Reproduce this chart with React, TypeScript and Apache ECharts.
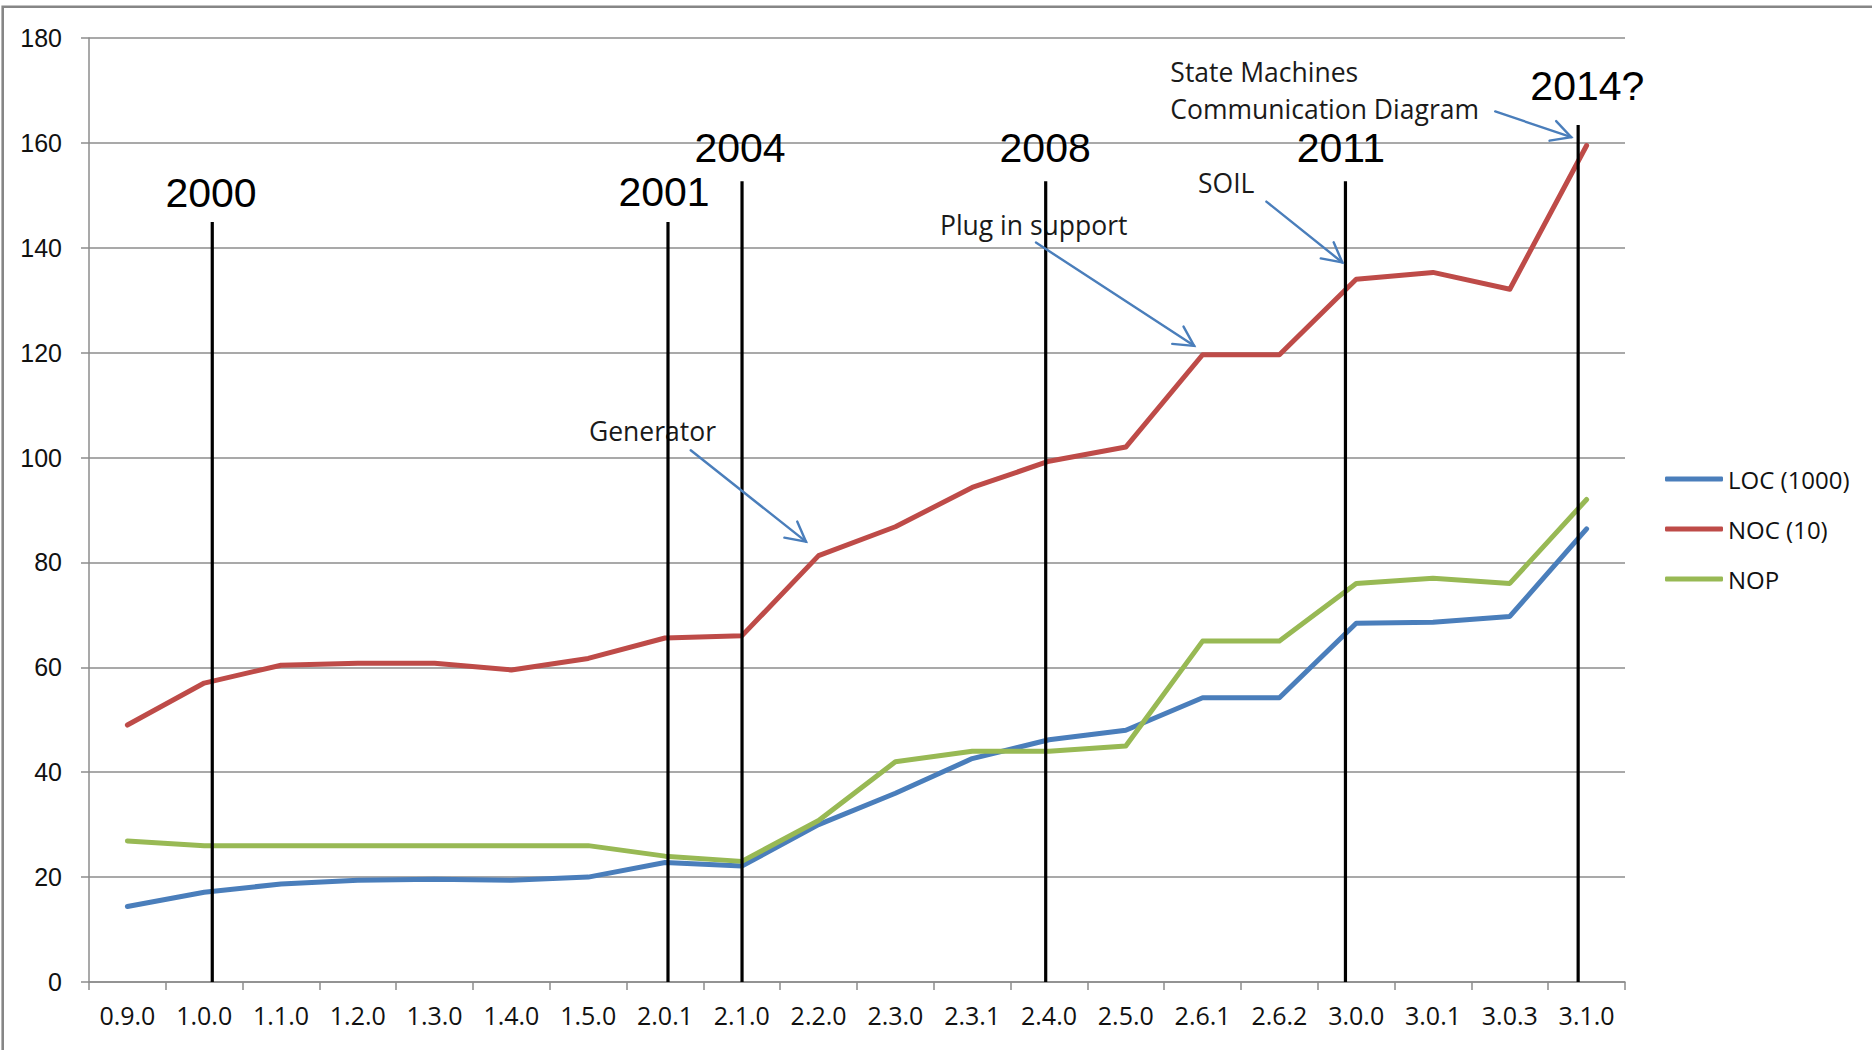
import React, { useEffect, useRef } from "react";
import * as echarts from "echarts";

// Release versions along the category axis
const versions = [
  "0.9.0", "1.0.0", "1.1.0", "1.2.0", "1.3.0", "1.4.0", "1.5.0", "2.0.1", "2.1.0", "2.2.0",
  "2.3.0", "2.3.1", "2.4.0", "2.5.0", "2.6.1", "2.6.2", "3.0.0", "3.0.1", "3.0.3", "3.1.0",
];

// Lines of code (thousands)
const locThousands = [
  14.4, 17.1, 18.7, 19.4, 19.6, 19.4, 20.0, 22.8, 22.1, 30.0,
  36.0, 42.6, 46.2, 48.0, 54.2, 54.2, 68.4, 68.6, 69.7, 86.4,
];
// Number of classes (tens)
const nocTens = [
  49.0, 57.0, 60.4, 60.8, 60.8, 59.5, 61.7, 65.6, 66.0, 81.3,
  86.8, 94.3, 99.3, 102.0, 119.6, 119.6, 134.0, 135.3, 132.1, 159.5,
];
// Number of packages
const nop = [
  26.9, 26.0, 26.0, 26.0, 26.0, 26.0, 26.0, 24.0, 23.0, 30.8,
  42.0, 44.0, 44.0, 45.0, 65.0, 65.0, 76.0, 77.0, 76.0, 92.0,
];

const seriesNames = ["LOC (1000)", "NOC (10)", "NOP"];
const seriesColors = ["#4a7ebb", "#be4b48", "#98b954"];

const yTicks = { min: 0, max: 180, interval: 20 };

// Year markers, placed on a continuous version index (0 = first release)
const yearLabels = ["2000", "2001", "2004", "2008", "2011", "2014?"];
const yearPos = [1.105, 7.039, 8.003, 11.957, 15.86, 18.89];
const yearTop = [144.9, 144.9, 152.7, 152.7, 152.7, 163.4];
const yearLabelX = [1.089, 6.987, 7.977, 11.95, 15.8, 19.01];
const yearLabelY = [150.5, 150.6, 159.1, 159.1, 159.1, 170.8];

// Feature notes with their call-out arrows
const noteTexts = ["Generator", "Plug in support", "SOIL", "State Machines", "Communication Diagram"];
const noteX = [6.01, 10.58, 13.94, 13.58, 13.58];
const noteY = [105.0, 144.4, 152.3, 173.5, 166.5];
const arrowFrom = [
  [7.335, 101.4],
  [11.83, 141.0],
  [14.83, 148.8],
  [17.81, 166.0],
];
const arrowTo = [
  [8.836, 83.96],
  [13.89, 121.3],
  [15.82, 137.2],
  [18.8, 161.1],
];

const GRID_GRAY = "#8c8c8c";
const TEXT = "#111";
const ARROW = "#4a7ebb";

export default function App() {
  const ref = useRef<HTMLDivElement>(null);

  useEffect(() => {
    if (!ref.current) return;
    const chart = echarts.init(ref.current, null, { renderer: "svg" });

    const dataSeries = [locThousands, nocTens, nop].map((values, i) => ({
      name: seriesNames[i],
      type: "line",
      data: values,
      symbol: "none",
      z: 2,
      lineStyle: { color: seriesColors[i], width: 5, cap: "round", join: "round" },
      itemStyle: { color: seriesColors[i] },
    }));

    const markerSeries = yearPos.map((x, i) => ({
      type: "line",
      xAxisIndex: 1,
      yAxisIndex: 0,
      data: [
        [x, 0],
        [x, yearTop[i]],
      ],
      symbol: "none",
      silent: true,
      z: 3,
      lineStyle: { color: "#000", width: 3.2 },
    }));

    const option = {
      animation: false,
      backgroundColor: "#ffffff",
      grid: { left: 89, top: 38, right: 247, bottom: 68 },
      legend: {
        orient: "vertical",
        left: 1665,
        top: 464,
        padding: 0,
        itemGap: 20,
        itemWidth: 58,
        itemHeight: 5,
        icon: "roundRect",
        selectedMode: false,
        data: seriesNames,
        itemStyle: { borderWidth: 0 },
        textStyle: { fontFamily: "Open Sans", fontSize: 24, color: TEXT, lineHeight: 30 },
      },
      xAxis: [
        {
          type: "category",
          data: versions,
          boundaryGap: true,
          axisLine: { onZero: false, lineStyle: { color: GRID_GRAY, width: 1.5 } },
          axisTick: { show: true, length: 8, lineStyle: { color: GRID_GRAY, width: 1.5 } },
          axisLabel: { interval: 0, margin: 20, fontFamily: "Open Sans", fontSize: 25, color: TEXT },
          splitLine: { show: false },
        },
        { type: "value", min: -0.5, max: versions.length - 0.5, show: false },
      ],
      yAxis: {
        type: "value",
        min: yTicks.min,
        max: yTicks.max,
        interval: yTicks.interval,
        axisLine: { show: true, onZero: false, lineStyle: { color: GRID_GRAY, width: 1.5 } },
        axisTick: { show: true, length: 8, lineStyle: { color: GRID_GRAY, width: 1.5 } },
        axisLabel: { margin: 27, fontFamily: "Liberation Sans", fontSize: 25, color: TEXT },
        splitLine: { show: true, lineStyle: { color: GRID_GRAY, width: 1.5 } },
      },
      series: [...dataSeries, ...markerSeries],
    };

    chart.setOption(option as any);

    const finder = { seriesIndex: dataSeries.length };
    const toPx = (p: number[]) => chart.convertToPixel(finder, p) as number[];

    const elements: any[] = [];

    // Outer chart frame
    elements.push({
      type: "rect",
      silent: true,
      z: 10,
      shape: { x: 2.7, y: 6.7, width: 4000, height: 4000 },
      style: { fill: "none", stroke: "#868686", lineWidth: 2.6 },
    });

    yearLabels.forEach((t, i) => {
      const [px, py] = toPx([yearLabelX[i], yearLabelY[i]]);
      elements.push({
        type: "text",
        x: px,
        y: py,
        z: 5,
        silent: true,
        style: {
          text: t,
          fontFamily: "Liberation Sans",
          fontSize: 41,
          fill: "#000",
          align: "center",
          verticalAlign: "middle",
        },
      });
    });

    noteTexts.forEach((t, i) => {
      const [px, py] = toPx([noteX[i], noteY[i]]);
      elements.push({
        type: "text",
        x: px,
        y: py,
        z: 1,
        silent: true,
        style: {
          text: t,
          fontFamily: "Open Sans",
          fontSize: 26.5,
          fill: "#1a1a1a",
          align: "left",
          verticalAlign: "middle",
        },
      });
    });

    arrowFrom.forEach((from, i) => {
      const a = toPx(from);
      const b = toPx(arrowTo[i]);
      const ang = Math.atan2(b[1] - a[1], b[0] - a[0]);
      const len = 22;
      const spread = (28 * Math.PI) / 180;
      const p1 = [b[0] - len * Math.cos(ang - spread), b[1] - len * Math.sin(ang - spread)];
      const p2 = [b[0] - len * Math.cos(ang + spread), b[1] - len * Math.sin(ang + spread)];
      elements.push({
        type: "line",
        z: 6,
        silent: true,
        shape: { x1: a[0], y1: a[1], x2: b[0], y2: b[1] },
        style: { stroke: ARROW, lineWidth: 2.4, lineCap: "round" },
      });
      elements.push({
        type: "polyline",
        z: 6,
        silent: true,
        shape: { points: [p1, b, p2] },
        style: { stroke: ARROW, lineWidth: 2.4, fill: "none", lineJoin: "miter", lineCap: "round" },
      });
    });

    chart.setOption({ graphic: { elements } });

    return () => chart.dispose();
  }, []);

  return (
    <div
      ref={ref}
      style={{ position: "fixed", left: 0, top: 0, width: 1872, height: 1050, background: "#fff" }}
    />
  );
}
